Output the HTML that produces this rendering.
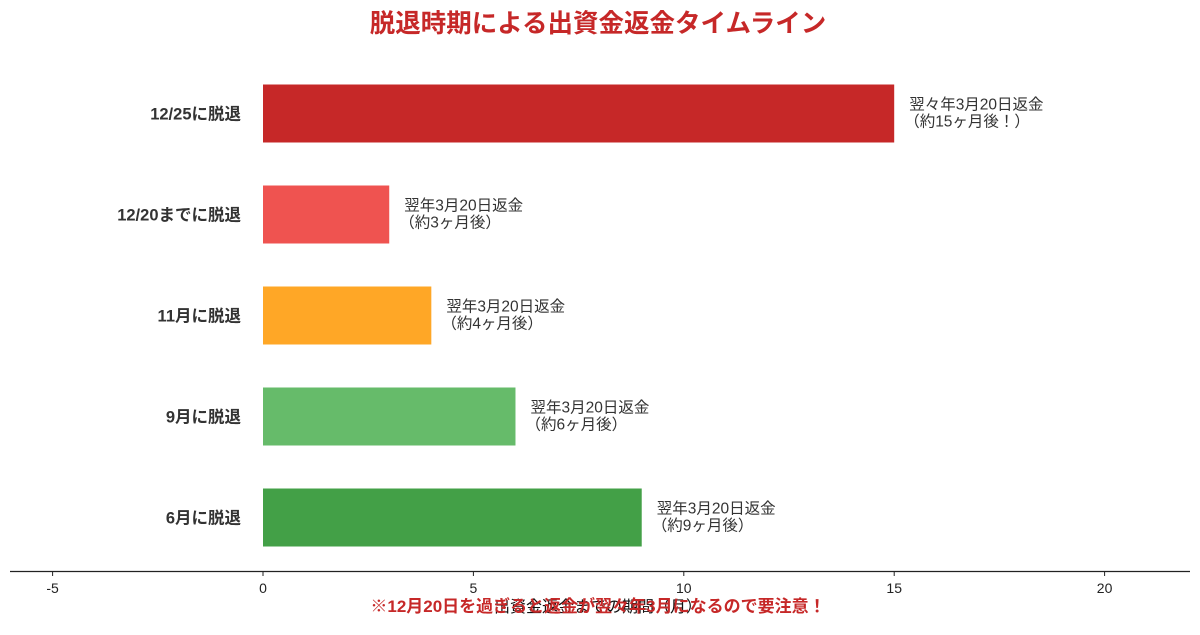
<!DOCTYPE html>
<html><head><meta charset="utf-8"><style>
body{margin:0;background:#fff;}
svg text{font-family:"Liberation Sans","Noto Sans CJK JP",sans-serif;}
</style></head><body>
<svg id="c" width="1200" height="630" xmlns="http://www.w3.org/2000/svg">
<text x="598" y="32" text-anchor="middle" font-size="25.5" font-weight="bold" fill="#c62828">脱退時期による出資金返金タイムライン</text>
<g id="bars"></g>
<g id="axis"></g>
<text x="598" y="612" text-anchor="middle" font-size="16" fill="#111">出資金返金までの期間（月）</text>
<text x="598" y="612" text-anchor="middle" font-size="17" font-weight="bold" fill="#c62828">※12月20日を過ぎると返金が翌々年3月になるので要注意！</text>
</svg>
<script>
const categories=["12/25に脱退","12/20までに脱退","11月に脱退","9月に脱退","6月に脱退"];
const months=[15,3,4,6,9];
const colors=["#c62828","#ef5350","#ffa726","#66bb6a","#43a047"];
const line1=["翌々年3月20日返金","翌年3月20日返金","翌年3月20日返金","翌年3月20日返金","翌年3月20日返金"];
const line2=["（約15ヶ月後！）","（約3ヶ月後）","（約4ヶ月後）","（約6ヶ月後）","（約9ヶ月後）"];
const ticks=[-5,0,5,10,15,20];
const NS="http://www.w3.org/2000/svg";
const xs=v=>263+v*42.08;
const yc=i=>113.5+i*101;
function mk(t,a,p,txt){const e=document.createElementNS(NS,t);for(const k in a)e.setAttribute(k,a[k]);if(txt!==undefined)e.textContent=txt;p.appendChild(e);return e;}
const B=document.getElementById('bars'),A=document.getElementById('axis');
categories.forEach((c,i)=>{
 const r=mk('rect',{x:xs(0),y:yc(i)-29,width:xs(months[i])-xs(0),height:58,fill:colors[i]},B);
 
 
 const l=mk('text',{x:241,y:yc(i)+6,'text-anchor':'end','font-size':16.5,'font-weight':'bold',fill:'#333'},B,c);
 
 
 const t1=mk('text',{x:xs(months[i])+15,y:yc(i)-4,'font-size':15.5,fill:'#333'},B,line1[i]);
 
 
 const t2=mk('text',{x:xs(months[i])+10,y:yc(i)+13,'font-size':15.5,fill:'#333'},B,line2[i]);
 
 
});
const ax=mk('line',{x1:10,x2:1190,y1:571.5,y2:571.5,stroke:'#222','stroke-width':1.2},A);


ticks.forEach(v=>{
 mk('line',{x1:xs(v),x2:xs(v),y1:571,y2:576,stroke:'#222'},A);
 const t=mk('text',{x:xs(v),y:593,'text-anchor':'middle','font-size':14,fill:'#222'},A,String(v));
 
 
});
</script>
</body></html>
